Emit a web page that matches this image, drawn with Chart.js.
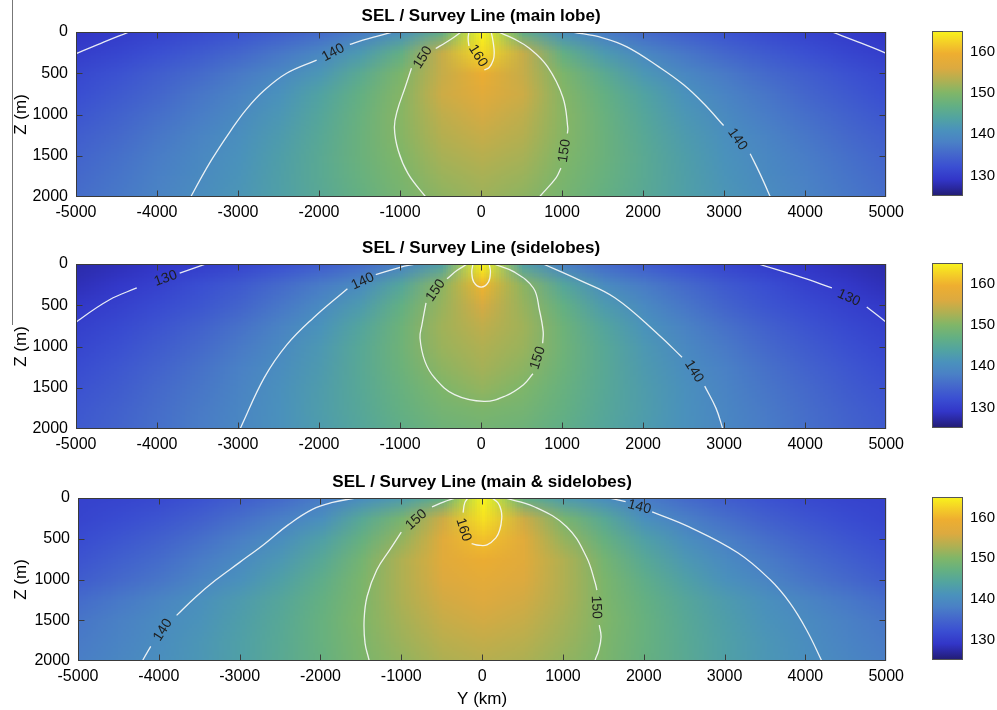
<!DOCTYPE html>
<html>
<head>
<meta charset="utf-8">
<script src="https://cdn.jsdelivr.net/npm/chart.js@4.4.1/dist/chart.umd.min.js"></script>
<style>
  body { margin: 0; background: #fff; width: 997px; height: 710px; position: relative; overflow: hidden; }
  .box { position: absolute; }
  #edge { position: absolute; left: 12px; top: 0; width: 1px; height: 325px; background: #777; }
</style>
</head>
<body>
<div id="edge"></div>
<div class="box" style="left:0;top:0"><canvas id="p1" width="910" height="225"></canvas></div>
<div class="box" style="left:0;top:232px"><canvas id="p2" width="910" height="225"></canvas></div>
<div class="box" style="left:0;top:466px"><canvas id="p3" width="910" height="245"></canvas></div>
<div class="box" style="left:915px;top:21px"><canvas id="c1" width="82" height="185"></canvas></div>
<div class="box" style="left:915px;top:253px"><canvas id="c2" width="82" height="185"></canvas></div>
<div class="box" style="left:915px;top:487px"><canvas id="c3" width="82" height="183"></canvas></div>
<script>
// grid: Y (km) from 0 to 5000, mirrored for negative Y; Z (m) rows 0..2000
const yHalf = [0, 500, 1000, 1500, 2000, 2500, 3000, 3500, 4000, 4500, 5000];
const zRows = [0, 250, 500, 750, 1000, 1250, 1500, 1750, 2000];
const yTicks = [-5000, -4000, -3000, -2000, -1000, 0, 1000, 2000, 3000, 4000, 5000];
const zTicks = [0, 500, 1000, 1500, 2000];
const cbTicks = [130, 140, 150, 160];
const cbRange = [125, 165];

// SEL values (dB)
const selMain = [
  [165, 146.5, 140.6, 137.7, 135.6, 134, 132.7, 131.5, 130.6, 129.7, 128.9],
  [163, 154.5, 146.8, 142.3, 139.2, 137, 135.1, 133.6, 132.2, 131, 130],
  [159, 154.5, 149.6, 145.5, 141.8, 139.3, 137.3, 135.5, 134, 132.5, 131.2],
  [157, 155, 150.3, 147, 143.8, 141, 138.7, 136.8, 135, 133.5, 132],
  [155.5, 154, 150.5, 147.5, 144.5, 141.8, 139.7, 137.7, 136, 134.5, 133],
  [154.5, 153.3, 150.4, 147.7, 145, 142.5, 140.5, 138.6, 137, 135.4, 134],
  [153.5, 152.5, 150, 147.7, 145.3, 143, 141, 139.3, 137.6, 136.1, 134.7],
  [152.5, 151.6, 149.5, 147.4, 145.3, 143.2, 141.3, 139.7, 138.1, 136.7, 135.3],
  [151.8, 150.8, 149, 147, 145.1, 143.3, 141.6, 140.1, 138.6, 137.2, 135.9]
];
const selSide = [
  [165, 143.5, 138.4, 135.6, 133.7, 132.2, 130.9, 129.9, 129, 128.2, 127.5],
  [160, 150.8, 144.5, 140, 137.5, 135.5, 133.5, 132, 130.4, 129.2, 128.2],
  [155.5, 151.5, 146.9, 142.5, 139.6, 137, 134.8, 133, 131.6, 130.4, 129.4],
  [154, 152, 148, 144.3, 141.1, 138.5, 136.3, 134.4, 132.8, 131.4, 130.2],
  [153, 151.6, 148.2, 145, 142, 139.5, 137.3, 135.4, 133.8, 132.3, 131],
  [152.3, 150.8, 147.9, 145.1, 142.4, 140.2, 138.1, 136.3, 134.6, 133.1, 131.8],
  [151.2, 149.8, 147.4, 145, 142.7, 140.6, 138.6, 136.9, 135.3, 133.8, 132.5],
  [149.6, 148.9, 147, 144.8, 142.8, 140.8, 139, 137.3, 135.8, 134.4, 133.1],
  [148.6, 148, 146.4, 144.5, 142.6, 140.9, 139.2, 137.6, 136.2, 134.8, 133.6]
];
const selBoth = [
  [165, 147, 142.7, 140.3, 137.7, 135.6, 134, 132.6, 131.5, 130.9, 130.5],
  [163.5, 155, 149.2, 145, 140.5, 138, 136, 134.3, 132.9, 131.8, 130.9],
  [161, 157, 151.3, 147.2, 143.3, 140.3, 138, 136, 134.4, 133, 131.8],
  [159, 157, 153, 148.8, 145, 142, 139.6, 137.5, 135.7, 134.2, 132.8],
  [157.5, 156.2, 153, 149.5, 146.2, 143.4, 140.9, 138.8, 136.9, 135.3, 133.9],
  [156.3, 155.3, 152.8, 149.7, 147, 144.6, 142.5, 140.6, 138.8, 137.2, 135.7],
  [155.3, 154.5, 152.3, 149.9, 147.3, 145, 143, 141.2, 139.8, 138.2, 136.8],
  [154.3, 153.6, 151.8, 149.7, 147.3, 145.2, 143.3, 141.6, 140.2, 138.7, 137.4],
  [153.4, 152.8, 151.2, 149.5, 147.2, 145.3, 143.4, 141.8, 140.5, 139.2, 137.9]
];

// contour pieces [Y, Z], broken where the labels sit
const lineMain = [
  [[-5100, 330], [-4990, 260], [-4700, 140], [-4345, 0]],
  [[4330, 0], [4650, 120], [5000, 260], [5100, 320]],
  [[-1095, 0], [-1300, 55], [-1460, 98], [-1620, 150]],
  [[-2030, 340], [-2400, 500], [-2676, 707], [-2900, 940], [-3090, 1195], [-3333, 1560], [-3577, 1988], [-3600, 2050]],
  [[1131, 0], [1500, 70], [1800, 180], [2190, 420], [2500, 640], [2750, 870], [2993, 1134]],
  [[3321, 1476], [3443, 1720], [3565, 1988], [3590, 2050]],
  [[-245, 0], [-330, 60], [-440, 130], [-560, 200]],
  [[-860, 440], [-937, 670], [-1034, 951], [-1070, 1159], [-1022, 1439], [-900, 1720], [-693, 1988], [-640, 2050]],
  [[210, 0], [400, 80], [600, 200], [820, 420], [1010, 793], [1070, 1159], [1065, 1230]],
  [[985, 1650], [925, 1768], [730, 1988], [680, 2050]],
  [[-150, 0], [-160, 80], [-150, 170]],
  [[40, 460], [100, 430], [150, 340], [162, 250], [150, 130], [125, 0]]
];
const labelMain = [[-1825, 250, '140', -28], [3163, 1300, '140', 55], [-718, 310, '150', -58], [1030, 1440, '150', -82], [-40, 290, '160', 58]];

const lineSide = [
  [[-5100, 800], [-4988, 696], [-4586, 433], [-4250, 290]],
  [[-3720, 110], [-3455, 20], [-3400, 0]],
  [[3420, 0], [3966, 166], [4330, 290]],
  [[4760, 520], [4988, 696], [5100, 790]],
  [[-815, 0], [-1000, 40], [-1300, 130]],
  [[-1650, 300], [-2068, 651], [-2397, 978], [-2676, 1378], [-2968, 1984], [-3000, 2050]],
  [[766, 0], [1200, 190], [1655, 412], [2190, 857], [2480, 1130]],
  [[2760, 1480], [2900, 1750], [2980, 1988], [3000, 2050]],
  [[-170, 0], [-300, 80], [-420, 180]],
  [[-680, 470], [-730, 736], [-754, 897], [-693, 1180], [-572, 1382], [-328, 1584], [36, 1665], [300, 1600], [523, 1463], [640, 1330]],
  [[760, 960], [766, 817], [720, 560], [645, 291], [401, 93], [158, 0]],
  [[-100, 0], [-115, 100], [-90, 220], [0, 280], [90, 220], [115, 100], [100, 0]]
];
const labelSide = [[-3893, 175, '130', -20], [4538, 410, '130', 24], [-1460, 211, '140', -25], [2628, 1302, '140', 58], [-560, 320, '150', -55], [700, 1140, '150', -72]];

const lineBoth = [
  [[-1569, 0], [-1850, 55], [-2100, 140], [-2400, 330], [-2700, 570], [-3000, 790], [-3300, 1010], [-3550, 1220], [-3780, 1440]],
  [[-4100, 1820], [-4197, 1988], [-4230, 2060]],
  [[1580, 0], [1776, 45]],
  [[2104, 170], [2555, 352], [3163, 672], [3565, 1004], [3808, 1287], [4015, 1619], [4197, 1988], [4220, 2050]],
  [[-328, 0], [-480, 50], [-620, 110]],
  [[-1000, 420], [-1143, 636], [-1302, 881], [-1423, 1209], [-1460, 1496], [-1448, 1783], [-1399, 1988], [-1390, 2050]],
  [[280, 0], [645, 107], [1046, 352], [1290, 721], [1399, 1041], [1420, 1130]],
  [[1450, 1560], [1472, 1705], [1440, 1880], [1399, 1988], [1390, 2050]],
  [[-175, 0], [-215, 60], [-235, 180]],
  [[-130, 560], [-40, 580], [61, 575], [170, 490], [219, 390], [243, 250], [235, 150], [195, 58], [122, 0]]
];
const labelBoth = [[-231, 390, '160', 72], [-815, 267, '150', -42], [1411, 1340, '150', 88], [-3950, 1620, '140', -58], [1946, 110, '140', 15]];

// parula-like colour map as it appears in the picture
const cmapStops = [
  [125, '#221c70'], [127, '#2a28a0'], [129, '#3236c8'], [132, '#3a4ed2'], [135, '#4466cc'],
  [138, '#4a80c6'], [141, '#4a92bc'], [144, '#52a4a0'], [147, '#64b082'], [150, '#80b668'],
  [153, '#b0b052'], [156, '#dcaa40'], [159.5, '#eeae30'], [162, '#f4cc28'], [165, '#f8f41c']
];
const family = '"Liberation Sans", Arial, Helvetica, sans-serif';

function hexRgb(h) {
  return [parseInt(h.slice(1, 3), 16), parseInt(h.slice(3, 5), 16), parseInt(h.slice(5, 7), 16)];
}
function cmap(v) {
  const s = cmapStops;
  if (v <= s[0][0]) return hexRgb(s[0][1]);
  for (let i = 1; i < s.length; i++) {
    if (v <= s[i][0]) {
      const t = (v - s[i - 1][0]) / (s[i][0] - s[i - 1][0]);
      const a = hexRgb(s[i - 1][1]), b = hexRgb(s[i][1]);
      return a.map((c, k) => Math.round(c + (b[k] - c) * t));
    }
  }
  return hexRgb(s[s.length - 1][1]);
}

function panelPlugin(p) {
  return {
    id: 'panel',
    beforeDatasetsDraw(chart) {
      const { ctx, chartArea: a, scales: { x, y } } = chart;
      const yFull = yHalf.slice(1).map(v => -v).reverse().concat(yHalf);
      const off = document.createElement('canvas');
      off.width = yFull.length;
      off.height = zRows.length;
      const octx = off.getContext('2d');
      const img = octx.createImageData(off.width, off.height);
      p.grid.forEach((half, r) => {
        const row = half.slice(1).reverse().concat(half);
        row.forEach((v, c) => {
          const rgb = cmap(v);
          const i = (r * off.width + c) * 4;
          img.data[i] = rgb[0]; img.data[i + 1] = rgb[1]; img.data[i + 2] = rgb[2]; img.data[i + 3] = 255;
        });
      });
      octx.putImageData(img, 0, 0);
      const dy = (yHalf[1] - yHalf[0]) / 2, dz = (zRows[1] - zRows[0]) / 2;
      const x0 = x.getPixelForValue(yFull[0] - dy), x1 = x.getPixelForValue(yFull[yFull.length - 1] + dy);
      const y0 = y.getPixelForValue(zRows[0] - dz), y1 = y.getPixelForValue(zRows[zRows.length - 1] + dz);
      ctx.save();
      ctx.beginPath();
      ctx.rect(a.left, a.top, a.width, a.height);
      ctx.clip();
      ctx.imageSmoothingEnabled = true;
      ctx.drawImage(off, x0, y0, x1 - x0, y1 - y0);
      ctx.restore();
    },
    afterDatasetsDraw(chart) {
      const { ctx, scales: { x, y } } = chart;
      ctx.save();
      ctx.fillStyle = '#1e1e1e';
      ctx.font = '14px ' + family;
      ctx.textAlign = 'center';
      ctx.textBaseline = 'middle';
      p.labels.forEach(l => {
        ctx.save();
        ctx.translate(x.getPixelForValue(l[0]), y.getPixelForValue(l[1]));
        ctx.rotate(l[3] * Math.PI / 180);
        ctx.fillText(l[2], 0, 0);
        ctx.restore();
      });
      ctx.restore();
    },
    afterDraw(chart) {
      const { ctx, chartArea: a, scales: { x, y } } = chart;
      ctx.save();
      ctx.strokeStyle = '#3a3a3a';
      ctx.lineWidth = 1;
      const L = Math.round(a.left) + 0.5, R = Math.round(a.right) - 0.5;
      const T = Math.round(a.top) + 0.5, B = Math.round(a.bottom) - 0.5;
      ctx.strokeRect(L, T, R - L, B - T);
      ctx.beginPath();
      // inward ticks, the end ones fall on the frame
      x.ticks.filter(t => t.value > x.min && t.value < x.max).forEach(t => {
        const px = Math.round(x.getPixelForValue(t.value)) + 0.5;
        ctx.moveTo(px, T); ctx.lineTo(px, T + 6);
        ctx.moveTo(px, B); ctx.lineTo(px, B - 6);
      });
      y.ticks.filter(t => t.value > y.min && t.value < y.max).forEach(t => {
        const py = Math.round(y.getPixelForValue(t.value)) + 0.5;
        ctx.moveTo(L, py); ctx.lineTo(L + 6, py);
        ctx.moveTo(R, py); ctx.lineTo(R - 6, py);
      });
      ctx.stroke();

      ctx.fillStyle = '#000';
      ctx.textAlign = 'center';
      ctx.textBaseline = 'middle';
      ctx.font = 'bold 17px ' + family;
      ctx.fillText(p.title, (a.left + a.right) / 2, a.top - 16);
      ctx.font = '17px ' + family;
      ctx.save();
      ctx.translate(21, (a.top + a.bottom) / 2);
      ctx.rotate(-Math.PI / 2);
      ctx.fillText('Z (m)', 0, 0);
      ctx.restore();
      if (p.xTitle) {
        ctx.font = '17px ' + family;
        ctx.fillText(p.xTitle, (a.left + a.right) / 2, a.bottom + 38);
      }
      ctx.restore();
    }
  };
}

function makePanel(p) {
  const datasets = p.lines.map(seg => ({
    data: seg.map(pt => ({ x: pt[0], y: pt[1] })),
    showLine: true,
    borderColor: 'rgba(246,248,248,0.92)',
    borderWidth: 1.3,
    pointRadius: 0,
    tension: 0.4,
    fill: false
  }));
  const tickFont = { size: 16, family: family };
  new Chart(document.getElementById(p.id), {
    type: 'scatter',
    data: { datasets },
    options: {
      responsive: false,
      animation: false,
      devicePixelRatio: 1,
      events: [],
      elements: { line: { capBezierPoints: false } },
      layout: { padding: { top: 32, right: p.right, left: 0, bottom: p.padBottom } },
      plugins: { legend: { display: false }, tooltip: { enabled: false } },
      scales: {
        x: {
          type: 'linear', min: yTicks[0], max: yTicks[yTicks.length - 1],
          grid: { display: false, drawTicks: false }, border: { display: false },
          afterBuildTicks: s => { s.ticks = yTicks.map(v => ({ value: v })); },
          afterFit: s => { s.height = 28; },
          ticks: { padding: 6, autoSkip: false, maxRotation: 0, color: '#000', font: tickFont, callback: v => String(v) }
        },
        y: {
          type: 'linear', reverse: true, min: zTicks[0], max: zTicks[zTicks.length - 1],
          grid: { display: false, drawTicks: false }, border: { display: false },
          afterBuildTicks: s => { s.ticks = zTicks.map(v => ({ value: v })); },
          afterFit: s => { s.width = p.left; },
          ticks: { padding: 8, autoSkip: false, color: '#000', font: tickFont, callback: v => String(v) }
        }
      }
    },
    plugins: [panelPlugin(p)]
  });
}

const cbarPlugin = {
  id: 'cbar',
  beforeDraw(chart) {
    const { ctx, chartArea: a, scales: { y } } = chart;
    const g = ctx.createLinearGradient(0, y.getPixelForValue(cbRange[0]), 0, y.getPixelForValue(cbRange[1]));
    cmapStops.forEach(s => g.addColorStop((s[0] - cbRange[0]) / (cbRange[1] - cbRange[0]), s[1]));
    ctx.save();
    ctx.fillStyle = g;
    ctx.fillRect(a.left, a.top, a.width, a.height);
    ctx.strokeStyle = '#555';
    ctx.lineWidth = 1;
    ctx.strokeRect(Math.round(a.left) + 0.5, Math.round(a.top) + 0.5, Math.round(a.width) - 1, Math.round(a.height) - 1);
    ctx.restore();
  }
};

function makeColorbar(id) {
  new Chart(document.getElementById(id), {
    type: 'scatter',
    data: { datasets: [] },
    options: {
      responsive: false,
      animation: false,
      devicePixelRatio: 1,
      events: [],
      layout: { padding: { top: 10, bottom: 10, left: 17, right: 0 } },
      plugins: { legend: { display: false }, tooltip: { enabled: false } },
      scales: {
        x: { display: false, min: 0, max: 1 },
        y: {
          position: 'right', min: cbRange[0], max: cbRange[1],
          grid: { display: false, drawTicks: false }, border: { display: false },
          afterBuildTicks: s => { s.ticks = cbTicks.map(v => ({ value: v })); },
          afterFit: s => { s.width = 34; s.paddingTop = 0; s.paddingBottom = 0; },
          ticks: { padding: 7, color: '#000', font: { size: 15, family: family }, callback: v => String(v) }
        }
      }
    },
    plugins: [cbarPlugin]
  });
}

makePanel({ id: 'p1', title: 'SEL / Survey Line (main lobe)', grid: selMain, lines: lineMain, labels: labelMain, left: 76, right: 12, padBottom: 0 });
makePanel({ id: 'p2', title: 'SEL / Survey Line (sidelobes)', grid: selSide, lines: lineSide, labels: labelSide, left: 76, right: 12, padBottom: 0 });
makePanel({ id: 'p3', title: 'SEL / Survey Line (main & sidelobes)', grid: selBoth, lines: lineBoth, labels: labelBoth, left: 78, right: 14, padBottom: 22, xTitle: 'Y (km)' });
makeColorbar('c1');
makeColorbar('c2');
makeColorbar('c3');
</script>
</body>
</html>
